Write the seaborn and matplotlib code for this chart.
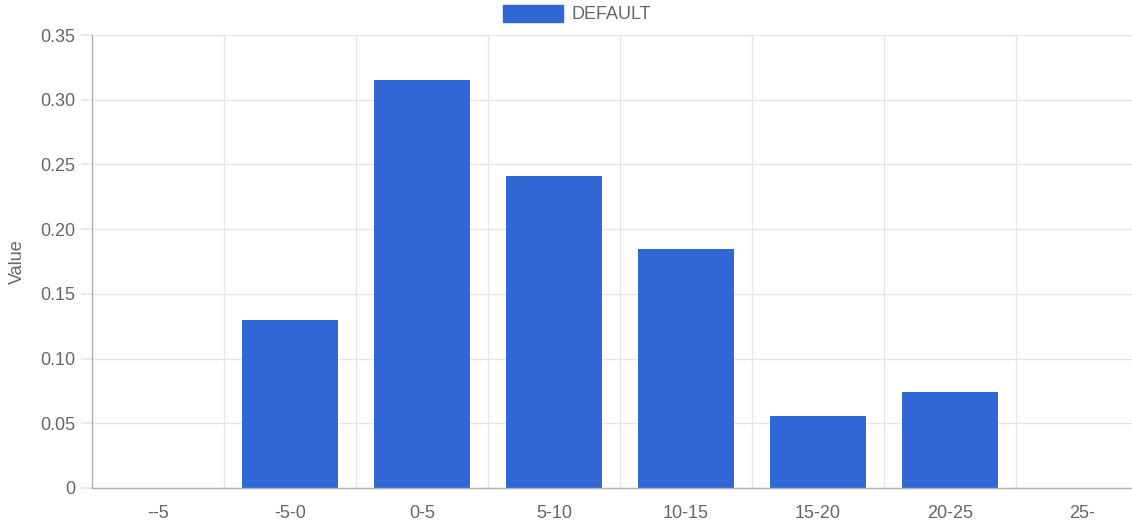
import matplotlib
matplotlib.use("Agg")
import matplotlib.pyplot as plt
import seaborn as sns
import pandas as pd
from matplotlib.patches import Patch
from matplotlib.ticker import FixedLocator, FuncFormatter

categories = ["--5", "-5-0", "0-5", "5-10", "10-15", "15-20", "20-25", "25-"]
values = [0, 0.130, 0.315, 0.241, 0.185, 0.056, 0.074, 0]
series_name = "DEFAULT"
y_ticks = [0, 0.05, 0.10, 0.15, 0.20, 0.25, 0.30, 0.35]

BAR_COLOR = "#3066d6"
TEXT_COLOR = "#666666"
GRID_COLOR = "#e6e6e6"
AXIS_COLOR = "#b0b0b0"

sns.set_theme(style="white")
plt.rcParams['font.family'] = ['Liberation Sans', 'DejaVu Sans']

df = pd.DataFrame({"bin": categories, "value": values})

W, H = 1132, 523
fig = plt.figure(figsize=(W / 100, H / 100), dpi=100)
# plot area in pixels: left 92, right edge of image, top 35, bottom 488
ax = fig.add_axes([92 / W, (H - 488) / H, 1 - 92 / W, (488 - 35) / H])

sns.barplot(data=df, x="bin", y="value", color=BAR_COLOR, width=0.72,
            saturation=1, linewidth=0, ax=ax)

# category slot is 132 px wide, image cuts the last slot short
ax.set_xlim(-0.5, (W - 92) / 132 - 0.5)
ax.set_ylim(0, 0.35)

# grid lines between categories (chart.js style offset grid)
bounds = [i - 0.5 for i in range(len(categories) + 1)]
ax.xaxis.set_minor_locator(FixedLocator(bounds))
ax.tick_params(axis="x", which="minor", length=10, color=GRID_COLOR, width=1)
ax.tick_params(axis="x", which="major", length=0, pad=12,
               labelsize=13, labelcolor=TEXT_COLOR)
ax.grid(True, axis="x", which="minor", color=GRID_COLOR, linewidth=1)

ax.yaxis.set_major_locator(FixedLocator(y_ticks))
ax.yaxis.set_major_formatter(FuncFormatter(lambda v, p: "0" if v == 0 else f"{v:.2f}"))
ax.tick_params(axis="y", which="major", left=True, length=8, color=GRID_COLOR,
               pad=4, labelsize=13, labelcolor=TEXT_COLOR)
ax.grid(True, axis="y", which="major", color=GRID_COLOR, linewidth=1)
ax.set_axisbelow(True)

for side in ["top", "right"]:
    ax.spines[side].set_visible(False)
for side in ["left", "bottom"]:
    ax.spines[side].set_color(AXIS_COLOR)
    ax.spines[side].set_linewidth(1)

ax.set_xlabel("")
ax.set_ylabel("Value", color=TEXT_COLOR, fontsize=13, labelpad=10)

handle = Patch(facecolor=BAR_COLOR, edgecolor=BAR_COLOR)
fig.legend([handle], [series_name], loc="upper center",
           bbox_to_anchor=(577 / W, 1.012), frameon=False, fontsize=13,
           labelcolor=TEXT_COLOR, handlelength=3.3, handleheight=1.1,
           handletextpad=0.5, borderpad=0.1)

fig.savefig("out.png", dpi=100)
